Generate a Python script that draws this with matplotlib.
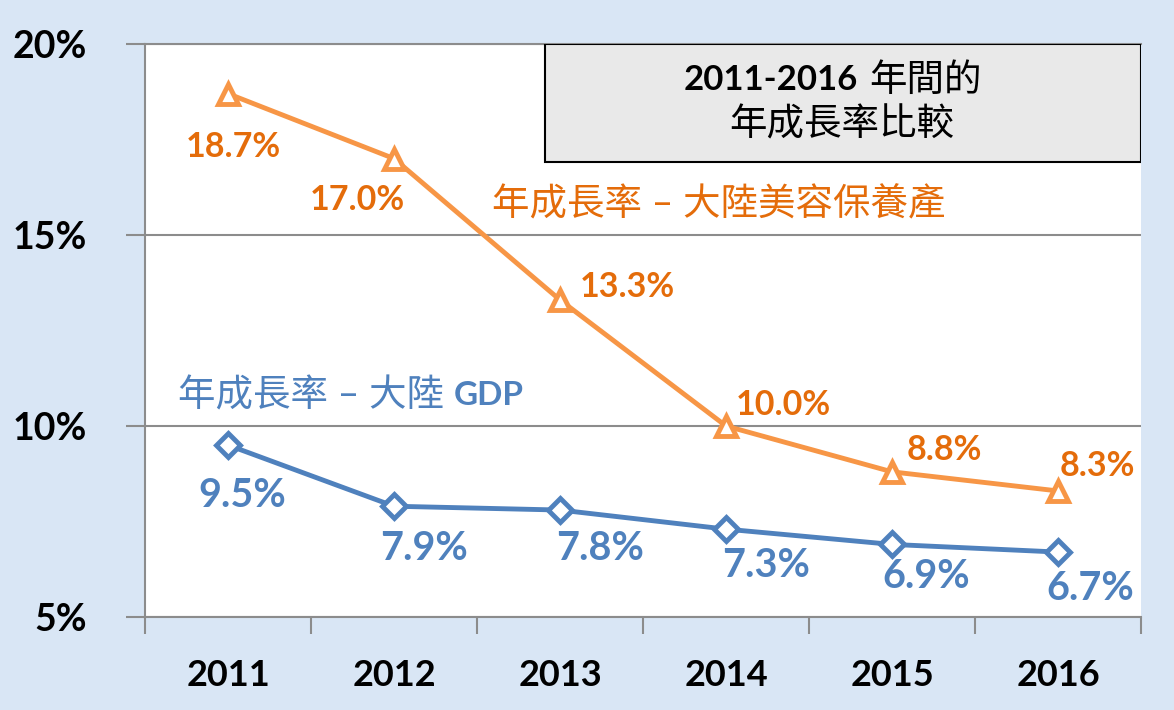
import matplotlib.pyplot as plt
from matplotlib.patches import Rectangle

# Dati
years = ['2011', '2012', '2013', '2014', '2015', '2016']
beauty_growth = [18.7, 17.0, 13.3, 10.0, 8.8, 8.3]
gdp_growth = [9.5, 7.9, 7.8, 7.3, 6.9, 6.7]
beauty_labels = ['18.7%', '17.0%', '13.3%', '10.0%', '8.8%', '8.3%']
gdp_labels = ['9.5%', '7.9%', '7.8%', '7.3%', '6.9%', '6.7%']
y_ticks = [5, 10, 15, 20]
y_tick_labels = ['5%', '10%', '15%', '20%']

# offset delle etichette (pixel)
beauty_offsets = [(5, -53), (-37, -41), (67, 13), (57, 21), (52, 22), (39, 25)]
gdp_offsets = [(14, -50), (30, -42), (40, -38), (40, -36), (34, -32), (32, -36)]

FONTS = ['Lato', 'Noto Sans CJK TC', 'DejaVu Sans']
plt.rcParams['font.family'] = FONTS

orange_line = '#F79646'
orange_text = '#E46C0A'
blue = '#4F81BD'
grid_col = '#8C8C8C'

fig = plt.figure(figsize=(11.74, 7.10), dpi=100)
fig.patch.set_facecolor('#D9E6F5')
ax = fig.add_axes([145 / 1174, 1 - 617 / 710, 996 / 1174, 573 / 710])
ax.set_facecolor('white')

x = list(range(len(years)))
ax.plot(x, beauty_growth, color=orange_line, lw=3.5, marker='^', ms=15,
        mfc='white', mec=orange_line, mew=3.5, zorder=3)
ax.plot(x, gdp_growth, color=blue, lw=3.5, marker='D', ms=12,
        mfc='white', mec=blue, mew=3.5, zorder=3)

for xi, v, lab, off in zip(x, beauty_growth, beauty_labels, beauty_offsets):
    ax.annotate(lab, (xi, v), xytext=off, textcoords='offset pixels',
                ha='center', va='center', color=orange_text, fontsize=24.5,
                fontweight='bold')
for xi, v, lab, off in zip(x, gdp_growth, gdp_labels, gdp_offsets):
    ax.annotate(lab, (xi, v), xytext=off, textcoords='offset pixels',
                ha='center', va='center', color=blue, fontsize=28.5,
                fontweight='bold')

# nomi delle serie
t_gdp = ax.text(-0.30, 10.8, '年成長率 – 大陸', color=blue, fontsize=27,
                ha='left', va='center')
ax.annotate('GDP', xy=(1, 0.5), xycoords=t_gdp, xytext=(10, 0),
            textcoords='offset pixels', color=blue, fontsize=24,
            fontweight='bold', ha='left', va='center')
ax.text(1.59, 15.8, '年成長率 – 大陸美容保養產', color=orange_text, fontsize=27,
        ha='left', va='center')

# riquadro del titolo
ax.add_patch(Rectangle((0.402, 0.794), 0.598, 0.206, transform=ax.transAxes,
                       facecolor='#E9E9E9', edgecolor='black', lw=1.5,
                       zorder=4))
ax.text(0.716, 0.937, '2011-2016', transform=ax.transAxes, fontsize=25,
        fontweight='bold', ha='right', va='center', zorder=5)
ax.text(0.727, 0.937, '年間的', transform=ax.transAxes, fontsize=27,
        ha='left', va='center', zorder=5)
ax.text(0.70, 0.859, '年成長率比較', transform=ax.transAxes, fontsize=27,
        ha='center', va='center', zorder=5)

# assi
ax.set_xlim(-0.5, 5.5)
ax.set_ylim(5, 20)
ax.set_yticks(y_ticks)
ax.set_yticklabels(y_tick_labels, fontsize=27, fontweight='bold')
ax.set_xticks(x)
ax.set_xticklabels(years, fontsize=26, fontweight='bold')
ax.set_xticks([i - 0.5 for i in range(len(years) + 1)], minor=True)
ax.tick_params(axis='x', which='major', length=0, pad=30)
ax.tick_params(axis='x', which='minor', length=12, color=grid_col, width=1.5)
ax.tick_params(axis='y', length=14, color=grid_col, width=1.5, pad=28)
ax.yaxis.grid(True, color=grid_col, lw=1.5)
ax.set_axisbelow(True)
for s in ['top', 'right']:
    ax.spines[s].set_visible(False)
for s in ['left', 'bottom']:
    ax.spines[s].set_color(grid_col)
    ax.spines[s].set_linewidth(1.5)
ax.axhline(20, color=grid_col, lw=1.5, clip_on=False, zorder=1)

fig.savefig('out.png', dpi=100, facecolor=fig.get_facecolor())
